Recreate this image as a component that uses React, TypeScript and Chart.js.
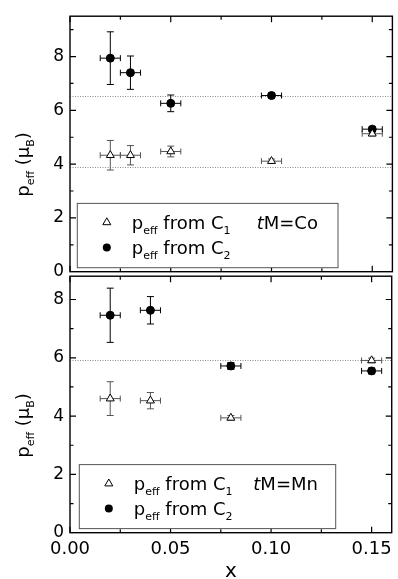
import React, { useEffect, useRef } from "react";
import { Chart, registerables } from "chart.js";

Chart.register(...registerables);

// ---------- data ----------
const xCo = [0.02, 0.03, 0.05, 0.1, 0.15];
const c1Co = [4.33, 4.33, 4.47, 4.11, 5.13];
const c1CoErr = [0.55, 0.36, 0.2, 0.08, 0.08];
const c2Co = [7.94, 7.4, 6.26, 6.55, 5.3];
const c2CoErr = [0.98, 0.62, 0.31, 0.1, 0.1];
const refCo = [6.53, 3.89];

const xMn = [0.02, 0.04, 0.08, 0.15];
const c1Mn = [4.6, 4.53, 3.94, 5.91];
const c1MnErr = [0.58, 0.28, 0.08, 0.08];
const c2Mn = [7.46, 7.63, 5.72, 5.55];
const c2MnErr = [0.93, 0.47, 0.12, 0.1];
const refMn = [5.91];

const xErr = 0.005;

const xTickValues = [0, 0.05, 0.1, 0.15];
const xTickLabels = ["0.00", "0.05", "0.10", "0.15"];
const xMinorTicks = [0.025, 0.075, 0.125];
const yTickValues = [0, 2, 4, 6, 8];
const yTickLabels = ["0", "2", "4", "6", "8"];
const yMinorTicks = [1, 3, 5, 7, 9];

const FONT = "'DejaVu Sans', sans-serif";

type Part = { t: string; size: number; dy?: number; italic?: boolean };

function drawRich(ctx: CanvasRenderingContext2D, x: number, y: number, parts: Part[]) {
  let cx = x;
  for (const p of parts) {
    ctx.font = `${p.italic ? "italic " : ""}${p.size}px ${FONT}`;
    ctx.fillText(p.t, cx, y + (p.dy || 0));
    cx += ctx.measureText(p.t).width;
  }
}

function richWidth(ctx: CanvasRenderingContext2D, parts: Part[]) {
  let w = 0;
  for (const p of parts) {
    ctx.font = `${p.italic ? "italic " : ""}${p.size}px ${FONT}`;
    w += ctx.measureText(p.t).width;
  }
  return w;
}

type Panel = {
  xs: number[];
  c1: number[];
  c1Err: number[];
  c2: number[];
  c2Err: number[];
  refs: number[];
  yMax: number;
  metal: string;
  showX: boolean;
  legend: { left: number; top: number; right: number; bottom: number; tmX: number };
};

function decorPlugin(p: Panel) {
  return {
    id: "decor",
    beforeDatasetsDraw(chart: any) {
      const { ctx, chartArea: a, scales } = chart;
      const xs = scales.x;
      const ys = scales.y;
      ctx.save();
      ctx.beginPath();
      ctx.rect(a.left, a.top, a.right - a.left, a.bottom - a.top);
      ctx.clip();
      ctx.strokeStyle = "#8a8a8a";
      ctx.lineWidth = 1;
      ctx.setLineDash([1, 1.5]);
      for (const v of p.refs) {
        const py = Math.round(ys.getPixelForValue(v)) + 0.5;
        ctx.beginPath();
        ctx.moveTo(a.left, py);
        ctx.lineTo(a.right, py);
        ctx.stroke();
      }
      ctx.setLineDash([]);
      const drawErr = (vals: number[], errs: number[], color: string) => {
        ctx.strokeStyle = color;
        ctx.lineWidth = 1;
        p.xs.forEach((xv, i) => {
          const px = xs.getPixelForValue(xv);
          const py = ys.getPixelForValue(vals[i]);
          const yt = ys.getPixelForValue(vals[i] + errs[i]);
          const yb = ys.getPixelForValue(vals[i] - errs[i]);
          const xl = xs.getPixelForValue(xv - xErr);
          const xr = xs.getPixelForValue(xv + xErr);
          ctx.beginPath();
          ctx.moveTo(px, yt);
          ctx.lineTo(px, yb);
          ctx.moveTo(px - 3.5, yt);
          ctx.lineTo(px + 3.5, yt);
          ctx.moveTo(px - 3.5, yb);
          ctx.lineTo(px + 3.5, yb);
          ctx.moveTo(xl, py);
          ctx.lineTo(xr, py);
          ctx.moveTo(xl, py - 3);
          ctx.lineTo(xl, py + 3);
          ctx.moveTo(xr, py - 3);
          ctx.lineTo(xr, py + 3);
          ctx.stroke();
        });
      };
      drawErr(p.c1, p.c1Err, "#555");
      drawErr(p.c2, p.c2Err, "#000");
      ctx.restore();
    },
    afterDatasetsDraw(chart: any) {
      const { ctx, chartArea: a, scales } = chart;
      const xs = scales.x;
      const ys = scales.y;
      ctx.save();
      ctx.strokeStyle = "#000";
      ctx.lineWidth = 1.4;
      ctx.strokeRect(a.left, a.top, a.right - a.left, a.bottom - a.top);
      ctx.lineWidth = 1.2;
      ctx.beginPath();
      const tx = (v: number, len: number) => {
        const px = xs.getPixelForValue(v);
        ctx.moveTo(px, a.bottom);
        ctx.lineTo(px, a.bottom - len);
        ctx.moveTo(px, a.top);
        ctx.lineTo(px, a.top + len);
      };
      const ty = (v: number, len: number) => {
        const py = ys.getPixelForValue(v);
        if (py < a.top + 1 || py > a.bottom - 1) return;
        ctx.moveTo(a.left, py);
        ctx.lineTo(a.left + len, py);
        ctx.moveTo(a.right, py);
        ctx.lineTo(a.right - len, py);
      };
      xTickValues.forEach((v) => tx(v, 6));
      xMinorTicks.forEach((v) => tx(v, 3.5));
      yTickValues.forEach((v) => ty(v, 6));
      yMinorTicks.filter((v) => v < p.yMax).forEach((v) => ty(v, 3.5));
      ctx.stroke();

      // legend box
      const L = p.legend;
      const lx = a.left + L.left;
      const lt = a.top + L.top;
      const lr = a.left + L.right;
      const lb = a.top + L.bottom;
      ctx.fillStyle = "#fff";
      ctx.fillRect(lx, lt, lr - lx, lb - lt);
      ctx.strokeStyle = "#555";
      ctx.lineWidth = 1;
      ctx.strokeRect(lx, lt, lr - lx, lb - lt);
      // symbols
      const sx = lx + 29.5;
      const r1 = lt + 19;
      const r2 = lt + 44;
      ctx.beginPath();
      const tr = 4.6;
      ctx.moveTo(sx, r1 - tr);
      ctx.lineTo(sx + tr * 0.866, r1 + tr * 0.5);
      ctx.lineTo(sx - tr * 0.866, r1 + tr * 0.5);
      ctx.closePath();
      ctx.fillStyle = "#fff";
      ctx.fill();
      ctx.strokeStyle = "#000";
      ctx.stroke();
      ctx.beginPath();
      ctx.arc(sx, r2, 4, 0, Math.PI * 2);
      ctx.fillStyle = "#000";
      ctx.fill();
      // texts
      ctx.fillStyle = "#000";
      ctx.textBaseline = "alphabetic";
      ctx.textAlign = "left";
      const tx0 = lx + 54.5;
      drawRich(ctx, tx0, r1 + 6.5, [
        { t: "p", size: 18 },
        { t: "eff", size: 11, dy: 5 },
        { t: " from C", size: 18 },
        { t: "1", size: 11, dy: 5 },
      ]);
      drawRich(ctx, tx0, r2 + 6.5, [
        { t: "p", size: 18 },
        { t: "eff", size: 11, dy: 5 },
        { t: " from C", size: 18 },
        { t: "2", size: 11, dy: 5 },
      ]);
      drawRich(ctx, lx + L.tmX, r1 + 6.5, [
        { t: "t", size: 18, italic: true },
        { t: "M=" + p.metal, size: 18 },
      ]);

      // y title (rotated)
      ctx.save();
      ctx.translate(28.5, a.bottom - 75);
      ctx.rotate(-Math.PI / 2);
      drawRich(ctx, 0, 0, [
        { t: "p", size: 18 },
        { t: "eff", size: 11, dy: 5 },
        { t: " (", size: 18 },
        { t: "\u03bc", size: 18 },
        { t: "B", size: 11, dy: 5 },
        { t: ")", size: 18 },
      ]);
      ctx.restore();

      if (p.showX) {
        ctx.font = `20px ${FONT}`;
        ctx.textAlign = "center";
        ctx.fillText("x", (a.left + a.right) / 2, a.bottom + 44);
      }
      ctx.restore();
    },
  };
}

function makeConfig(p: Panel, padTop: number, padBottom: number, xHeight: number): any {
  return {
    type: "scatter",
    data: {
      datasets: [
        {
          label: "C1",
          data: p.xs.map((x, i) => ({ x, y: p.c1[i] })),
          pointStyle: "triangle",
          pointRadius: 4.6,
          backgroundColor: "#fff",
          borderColor: "#000",
          borderWidth: 1,
        },
        {
          label: "C2",
          data: p.xs.map((x, i) => ({ x, y: p.c2[i] })),
          pointStyle: "circle",
          pointRadius: 4,
          backgroundColor: "#000",
          borderColor: "#000",
          borderWidth: 1,
        },
      ],
    },
    options: {
      responsive: false,
      animation: false,
      devicePixelRatio: 1,
      layout: { padding: { top: padTop, bottom: padBottom, left: 0, right: 1.5 } },
      plugins: { legend: { display: false }, tooltip: { enabled: false } },
      scales: {
        x: {
          type: "linear",
          min: 0,
          max: 0.16,
          grid: { display: false, drawTicks: false },
          border: { display: false },
          afterBuildTicks: (s: any) => {
            s.ticks = xTickValues.map((value) => ({ value }));
          },
          afterFit: (s: any) => {
            s.height = xHeight;
          },
          ticks: {
            display: p.showX,
            padding: 6,
            maxRotation: 0,
            autoSkip: false,
            color: "#000",
            font: { family: FONT, size: 18 },
            callback: (_v: any, i: number) => xTickLabels[i],
          },
        },
        y: {
          type: "linear",
          min: 0,
          max: p.yMax,
          grid: { display: false, drawTicks: false },
          border: { display: false },
          afterBuildTicks: (s: any) => {
            s.ticks = yTickValues.map((value) => ({ value }));
          },
          afterFit: (s: any) => {
            s.width = 70;
          },
          ticks: {
            padding: 6,
            autoSkip: false,
            color: "#000",
            font: { family: FONT, size: 17 },
            callback: (_v: any, i: number) => yTickLabels[i],
          },
        },
      },
    },
    plugins: [decorPlugin(p)],
  };
}

const coPanel: Panel = {
  xs: xCo,
  c1: c1Co,
  c1Err: c1CoErr,
  c2: c2Co,
  c2Err: c2CoErr,
  refs: refCo,
  yMax: 9.5,
  metal: "Co",
  showX: false,
  legend: { left: 7.3, top: 187.2, right: 268, bottom: 251.5, tmX: 179.4 },
};

const mnPanel: Panel = {
  xs: xMn,
  c1: c1Mn,
  c1Err: c1MnErr,
  c2: c2Mn,
  c2Err: c2MnErr,
  refs: refMn,
  yMax: 8.8,
  metal: "Mn",
  showX: true,
  legend: { left: 9.3, top: 188.4, right: 265.7, bottom: 252.4, tmX: 174 },
};

export default function App() {
  const topRef = useRef<HTMLCanvasElement>(null);
  const botRef = useRef<HTMLCanvasElement>(null);
  useEffect(() => {
    const c1 = new Chart(topRef.current as HTMLCanvasElement, makeConfig(coPanel, 13.5, 18.3, 0));
    const c2 = new Chart(botRef.current as HTMLCanvasElement, makeConfig(mnPanel, 14.3, 0, 46.3));
    return () => {
      c1.destroy();
      c2.destroy();
    };
  }, []);
  return (
    <div style={{ position: "absolute", left: 0, top: 0, width: 398, height: 579, background: "#fff" }}>
      <canvas ref={botRef} width={398} height={319} style={{ position: "absolute", left: 0, top: 260 }} />
      <canvas ref={topRef} width={398} height={290} style={{ position: "absolute", left: 0, top: 0 }} />
    </div>
  );
}
